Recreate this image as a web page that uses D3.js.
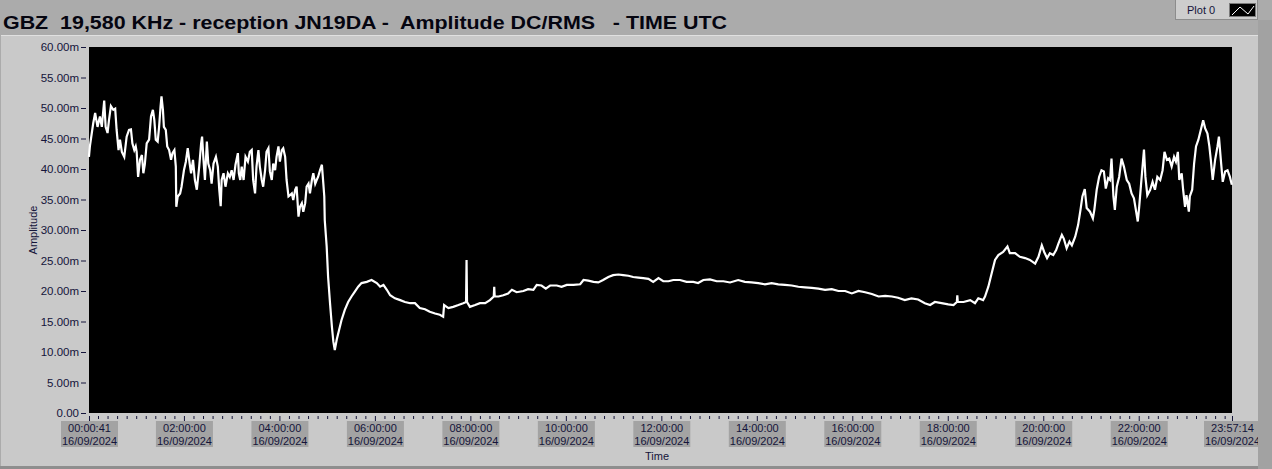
<!DOCTYPE html>
<html><head><meta charset="utf-8">
<script src="https://cdn.jsdelivr.net/npm/d3@7"></script>
<style>
html,body{margin:0;padding:0;background:#aaaaaa;}
svg{display:block;font-family:"Liberation Sans",Arial,sans-serif;}
</style></head>
<body>
<svg id="chart" width="1272" height="469"></svg>
<script>
// ---- data ----
const titleText = "GBZ  19,580 KHz - reception JN19DA -  Amplitude DC/RMS   - TIME UTC";
const legendName = "Plot 0";
const yTickValues = [0,5,10,15,20,25,30,35,40,45,50,55,60];
const yTickLabels = ["0.00","5.00m","10.00m","15.00m","20.00m","25.00m","30.00m","35.00m","40.00m","45.00m","50.00m","55.00m","60.00m"];
const xTickHours = [0.0114,2,4,6,8,10,12,14,16,18,20,22,23.9539];
const xTickTimes = ["00:00:41","02:00:00","04:00:00","06:00:00","08:00:00","10:00:00","12:00:00","14:00:00","16:00:00","18:00:00","20:00:00","22:00:00","23:57:14"];
const xTickDate = "16/09/2024";
const timeDomain = [0.0114, 23.9539];
const ampDomain = [0, 60];
// hours UTC
const hours = [
0.01,0.03,0.07,0.10,0.14,0.19,0.24,0.28,0.33,0.36,0.40,0.43,0.47,0.52,0.56,0.59,0.63,0.66,0.70,0.75,
0.80,0.85,0.89,0.92,0.96,0.99,1.01,1.04,1.08,1.12,1.15,1.18,1.22,1.27,1.31,1.35,1.38,1.41,1.45,1.48,
1.51,1.53,1.56,1.58,1.62,1.65,1.69,1.73,1.76,1.80,1.83,1.84,1.87,1.92,1.95,2.00,2.04,2.08,2.12,2.15,
2.19,2.23,2.27,2.32,2.36,2.38,2.41,2.44,2.48,2.51,2.55,2.58,2.62,2.67,2.71,2.74,2.77,2.79,2.83,2.87,
2.92,2.96,3.00,3.04,3.08,3.13,3.15,3.18,3.21,3.25,3.29,3.34,3.38,3.42,3.45,3.49,3.52,3.56,3.59,3.63,
3.66,3.70,3.73,3.77,3.80,3.84,3.87,3.91,3.94,3.98,4.01,4.05,4.08,4.12,4.15,4.19,4.22,4.26,4.29,4.33,
4.36,4.40,4.43,4.47,4.50,4.54,4.57,4.61,4.64,4.68,4.71,4.75,4.78,4.81,4.85,4.89,4.92,4.94,4.95,4.99,
5.02,5.06,5.10,5.13,5.16,5.20,5.25,5.30,5.37,5.44,5.51,5.58,5.65,5.72,5.83,5.93,6.04,6.11,6.18,6.25,
6.32,6.42,6.53,6.63,6.74,6.84,6.94,7.05,7.15,7.26,7.36,7.43,7.45,7.54,7.64,7.75,7.85,7.91,7.92,7.93,
7.99,8.10,8.20,8.31,8.41,8.49,8.50,8.51,8.59,8.69,8.79,8.87,8.97,9.11,9.21,9.32,9.39,9.49,9.58,9.67,
9.81,9.91,10.02,10.16,10.30,10.37,10.47,10.58,10.68,10.78,10.89,10.99,11.10,11.20,11.31,11.41,11.52,11.62,11.73,11.83,
11.94,12.04,12.15,12.25,12.39,12.53,12.67,12.77,12.88,13.02,13.16,13.30,13.44,13.61,13.75,13.89,14.03,14.17,14.31,14.45,
14.59,14.73,14.87,15.01,15.15,15.29,15.43,15.57,15.71,15.85,15.99,16.13,16.27,16.41,16.55,16.69,16.83,16.96,17.10,17.24,
17.38,17.52,17.63,17.73,17.87,18.01,18.12,18.19,18.20,18.21,18.33,18.47,18.57,18.64,18.74,18.78,18.85,18.92,18.99,19.06,
19.16,19.25,19.30,19.41,19.51,19.62,19.72,19.83,19.90,19.97,20.02,20.08,20.14,20.21,20.27,20.32,20.39,20.43,20.49,20.55,
20.60,20.67,20.73,20.78,20.82,20.87,20.91,20.98,21.04,21.07,21.12,21.17,21.22,21.27,21.31,21.36,21.40,21.43,21.47,21.50,
21.54,21.59,21.64,21.69,21.75,21.80,21.85,21.90,21.94,21.98,22.01,22.05,22.08,22.11,22.14,22.18,22.24,22.29,22.34,22.39,
22.45,22.50,22.54,22.59,22.64,22.69,22.74,22.78,22.82,22.85,22.90,22.93,22.97,23.00,23.05,23.07,23.12,23.16,23.20,23.25,
23.30,23.35,23.39,23.44,23.48,23.51,23.55,23.60,23.65,23.68,23.72,23.76,23.81,23.86,23.91,23.95
];
// amplitude in milli-units
const amplitude = [
42.0,43.7,45.9,47.5,49.2,46.9,48.6,46.9,51.2,46.9,45.9,48.0,50.3,49.7,49.9,46.4,43.1,44.8,42.8,42.0,
45.3,46.4,46.5,44.2,43.1,43.7,42.8,38.7,41.5,42.3,39.3,40.7,44.2,44.8,48.6,49.7,48.0,44.8,44.5,46.9,
50.2,51.9,49.7,46.9,46.4,43.7,43.1,41.5,42.6,43.1,40.4,33.8,35.5,36.0,37.1,39.8,41.2,43.4,40.9,39.3,
41.5,38.2,36.6,40.4,44.2,45.3,41.5,38.2,44.5,40.9,39.8,37.6,40.9,42.0,40.4,36.6,33.9,38.2,39.3,37.1,
39.3,38.7,39.8,38.2,40.7,42.6,39.3,38.2,40.4,38.2,42.0,41.2,42.8,43.1,38.2,36.0,40.4,43.1,40.4,38.2,
37.1,39.8,42.8,43.4,39.6,38.2,40.9,39.8,42.0,43.7,41.2,43.1,43.4,42.0,38.2,35.5,35.7,36.0,34.9,36.6,
37.1,32.2,33.8,34.4,33.0,34.4,37.1,37.6,36.0,38.2,39.3,37.6,38.2,38.7,39.8,40.7,37.6,35.5,31.6,27.3,
22.3,18.0,14.1,11.7,10.3,12.0,13.6,15.2,16.9,18.2,19.1,19.9,20.7,21.3,21.5,21.8,21.3,20.7,21.0,20.2,
19.3,18.8,18.5,18.2,18.0,18.0,17.2,17.0,16.6,16.3,16.1,15.8,17.7,17.2,17.4,17.7,18.0,18.2,25.1,18.2,
17.4,17.7,18.0,18.0,18.5,19.1,20.7,19.1,19.1,19.3,19.6,20.2,19.8,20.0,20.3,20.2,21.0,20.9,20.4,20.9,
20.9,20.7,21.0,21.0,21.1,21.8,21.7,21.5,21.4,21.8,22.3,22.6,22.7,22.6,22.5,22.3,22.2,22.1,22.0,21.5,
22.1,21.6,21.6,21.8,21.8,21.5,21.5,21.3,21.8,21.9,21.6,21.6,21.4,21.8,21.5,21.4,21.3,21.1,21.3,21.1,
21.0,20.9,20.7,20.6,20.5,20.4,20.2,20.3,20.0,20.0,19.6,20.0,19.8,19.5,19.1,19.2,19.1,18.9,18.5,18.8,
18.6,18.0,17.7,18.2,18.0,17.8,17.7,18.2,19.3,18.2,18.2,18.5,18.0,18.8,18.5,19.1,20.7,22.9,25.1,25.9,
26.4,27.3,26.2,26.2,25.6,25.4,25.1,24.5,25.6,27.5,26.4,25.4,26.2,25.9,26.7,27.8,29.2,28.6,27.0,28.1,
27.5,28.9,30.8,33.3,35.5,36.7,33.6,33.0,31.9,33.3,36.6,38.7,39.8,39.6,36.8,38.5,38.2,41.7,35.5,33.3,
37.1,38.7,41.7,40.4,38.2,37.6,36.0,35.2,33.3,31.4,33.8,37.6,40.4,43.2,38.7,35.7,36.6,37.9,36.6,38.7,
38.2,39.8,42.8,41.5,41.7,40.4,42.0,41.2,42.8,38.2,39.3,36.6,33.8,35.7,33.0,35.5,36.6,40.9,43.7,44.8,
46.4,48.0,46.7,45.8,43.7,41.5,38.2,41.5,43.7,45.3,41.5,37.9,39.6,39.8,38.7,37.4
];

// ---- drawing ----
const W = 1272, H = 469;
const plot = {left: 89, right: 1232, top: 47, bottom: 413};
const svg = d3.select("#chart");
const textCol = "#14143a";

svg.append("rect").attr("x",0).attr("y",0).attr("width",W).attr("height",H).attr("fill","#ababab");
svg.append("rect").attr("x",1).attr("y",35).attr("width",1257).attr("height",431).attr("fill","#c9c9c9");
svg.append("line").attr("x1",1).attr("x2",1258).attr("y1",35.5).attr("y2",35.5).attr("stroke","#e0e0e0");

svg.append("text").attr("x",3).attr("y",29).attr("font-size",19).attr("font-weight","bold")
  .attr("fill","#050510").attr("textLength",724).attr("lengthAdjust","spacingAndGlyphs")
  .style("white-space","pre").text(titleText);

// legend
const lg = svg.append("g");
lg.append("rect").attr("x",1175.5).attr("y",-1).attr("width",82).attr("height",20.5).attr("fill","#cdcdcd").attr("stroke","#8c8c8c");
lg.append("text").attr("x",1187).attr("y",14).attr("font-size",11).attr("fill",textCol).text(legendName);
lg.append("rect").attr("x",1229.5).attr("y",3.5).attr("width",26).attr("height",13).attr("fill","#000").attr("stroke","#7a7a7a");
lg.append("polyline").attr("points","1232,15 1240,7 1248,14 1254,6").attr("fill","none").attr("stroke","#fff").attr("stroke-width",1);

// scales
const x = d3.scaleLinear().domain(timeDomain).range([plot.left, plot.right]);
const y = d3.scaleLinear().domain(ampDomain).range([plot.bottom, plot.top]);

svg.append("rect").attr("x",plot.left).attr("y",plot.top).attr("width",plot.right-plot.left).attr("height",plot.bottom-plot.top).attr("fill","#000");

// y axis
const yAxis = d3.axisLeft(y).tickValues(yTickValues).tickFormat((d,i)=>yTickLabels[i]).tickSize(5).tickPadding(2);
const yg = svg.append("g").attr("transform",`translate(${plot.left-3},0)`).call(yAxis);
yg.select(".domain").remove();
yg.selectAll("line").attr("stroke",textCol);
yg.selectAll("text").attr("font-size",11.5).attr("fill",textCol).attr("font-family","Liberation Sans, Arial, sans-serif");

// x axis minor ticks
const minorVals = d3.range(0.2, 23.95, 0.2).filter(v => Math.abs(v/2 - Math.round(v/2)) > 0.01);
const xMinor = d3.axisBottom(x).tickValues(minorVals).tickSize(3).tickFormat("");
const xmg = svg.append("g").attr("transform",`translate(0,${plot.bottom+3})`).call(xMinor);
xmg.select(".domain").remove();
xmg.selectAll("line").attr("stroke",textCol);

// x axis major ticks + labels
const xAxis = d3.axisBottom(x).tickValues(xTickHours).tickSize(5).tickFormat((d,i)=>xTickTimes[i]);
const xg = svg.append("g").attr("transform",`translate(0,${plot.bottom+3})`).call(xAxis);
xg.select(".domain").remove();
xg.selectAll("line").attr("stroke",textCol);
xg.selectAll(".tick").each(function(d,i){
  const t = d3.select(this);
  t.select("text").remove();
  t.append("rect").attr("x",-28.5).attr("y",5).attr("width",57).attr("height",26).attr("fill","#a3a3a3");
  const tx = t.append("text").attr("text-anchor","middle").attr("font-size",11).attr("fill",textCol)
    .attr("font-family","Liberation Sans, Arial, sans-serif");
  tx.append("tspan").attr("x",0).attr("y",16).text(xTickTimes[i]);
  tx.append("tspan").attr("x",0).attr("y",29).text(xTickDate);
});

// axis titles
svg.append("text").attr("transform","translate(37,230) rotate(-90)").attr("text-anchor","middle")
  .attr("font-size",11).attr("fill",textCol).text("Amplitude");
svg.append("text").attr("x",657).attr("y",460).attr("text-anchor","middle")
  .attr("font-size",11).attr("fill",textCol).text("Time");

// series
const pts = hours.map((h,i)=>[h, amplitude[i]]);
const line = d3.line().x(d=>x(d[0])).y(d=>y(d[1]));
svg.append("path").datum(pts).attr("d",line).attr("fill","none").attr("stroke","#fff")
  .attr("stroke-width",2.2).attr("stroke-linejoin","miter");

// right strip & bottom edge
svg.append("rect").attr("x",1258).attr("y",20).attr("width",14).attr("height",449).attr("fill","#a2a2a2");
svg.append("rect").attr("x",0).attr("y",466).attr("width",1258).attr("height",3).attr("fill","#8e8e8e");
</script>
</body></html>
